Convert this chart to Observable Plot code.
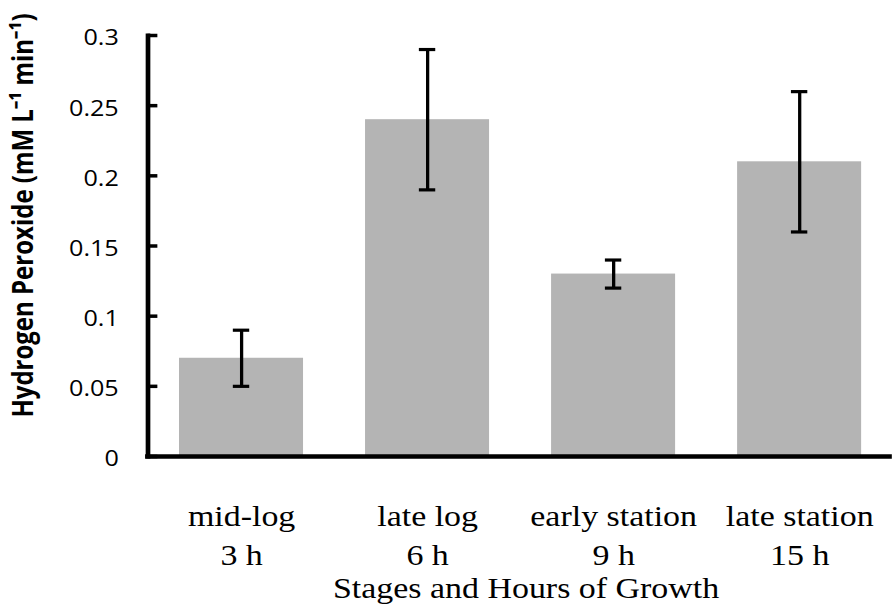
<!DOCTYPE html>
<html><head><meta charset="utf-8">
<script src="https://cdn.jsdelivr.net/npm/d3@7"></script>
<script src="https://cdn.jsdelivr.net/npm/@observablehq/plot@0.6"></script>
<style>html,body{margin:0;padding:0;background:#fff;} #chart svg{display:block;}</style>
</head><body><div id="chart"></div>
<script>
const stages = ["mid-log", "late log", "early station", "late station"];
const hours = ["3 h", "6 h", "9 h", "15 h"];
const values = [0.07, 0.24, 0.13, 0.21];
const errors = [0.02, 0.05, 0.01, 0.05];
const yTicks = [0, 0.05, 0.1, 0.15, 0.2, 0.25, 0.3];
const yTickLabels = ["0", "0.05", "0.1", "0.15", "0.2", "0.25", "0.3"];
const xTitle = "Stages and Hours of Growth";
const yTitle = "Hydrogen Peroxide (mM L\u207B\u00B9 min\u207B\u00B9)";

const data = stages.map((s, i) => ({stage: s, value: values[i], lo: values[i] - errors[i], hi: values[i] + errors[i]}));

const SX = 1.17, W = 893, H = 605, IW = W / SX;
const capStyle = {stroke: "black", strokeWidth: 3.2, insetLeft: 46, insetRight: 46};

const plot = Plot.plot({
  width: IW, height: H,
  marginLeft: 126, marginRight: 1, marginTop: 35, marginBottom: 149,
  style: {background: "white", overflow: "visible", color: "black"},
  x: {domain: stages, paddingInner: 0.333, paddingOuter: 0.167, axis: null},
  y: {domain: [0, 0.3], axis: null},
  marks: [
    Plot.barY(data, {x: "stage", y: "value", fill: "#b4b4b4"}),
    Plot.ruleX(data, {x: "stage", y1: "lo", y2: "hi", stroke: "black", strokeWidth: 2.8}),
    Plot.tickY(data, {x: "stage", y: "lo", ...capStyle}),
    Plot.tickY(data, {x: "stage", y: "hi", ...capStyle}),
    Plot.frame({anchor: "left", stroke: "black", strokeWidth: 4}),
    Plot.ruleY([0], {stroke: "black", strokeWidth: 4.5, insetLeft: -2}),
    Plot.axisY(yTicks, {tickSize: -8.5, tickFormat: () => "", strokeWidth: 3.5, label: null}),
    Plot.axisY(yTicks, {tickSize: 0, tickPadding: 25, tickFormat: d => yTickLabels[yTicks.indexOf(d)],
      fontSize: 21.5, fontFamily: "Open Sans", dy: 3, label: null}),
    Plot.axisX({tickSize: 0, tickPadding: 41.4, tickFormat: d => d + "\n" + hours[stages.indexOf(d)],
      fontSize: 29, fontFamily: "Liberation Serif", lineHeight: 1.345, label: null}),
    Plot.text([xTitle], {text: d => d, frameAnchor: "bottom", lineAnchor: "top", dy: 120.4, dx: 5,
      fontSize: 29, fontFamily: "Liberation Serif", fill: "black"}),
    Plot.text([yTitle], {text: d => d, frameAnchor: "left", textAnchor: "middle", rotate: -90, dx: -106, dy: -30.5,
      fontSize: 24, fontWeight: "bold", fontFamily: "Open Sans", fill: "black"})
  ]
});
plot.setAttribute("width", W);
plot.setAttribute("height", H);
plot.setAttribute("viewBox", `0 0 ${IW} ${H}`);
plot.setAttribute("preserveAspectRatio", "none");
plot.style.width = W + "px";
plot.style.height = H + "px";
plot.style.maxWidth = "none";
document.getElementById("chart").appendChild(plot);
</script>
</body></html>
